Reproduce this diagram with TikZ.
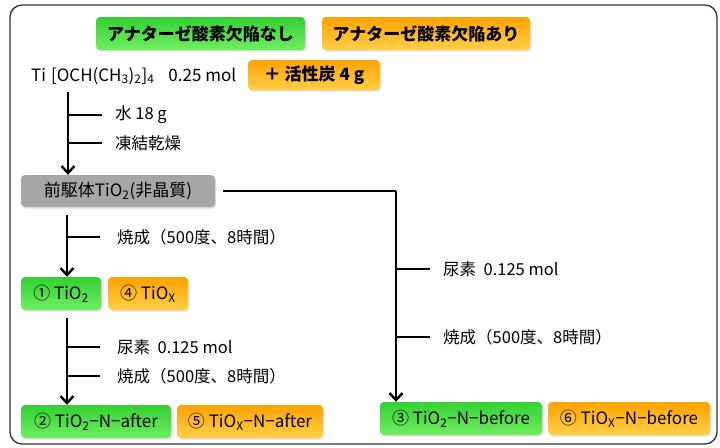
\documentclass[tikz,border=0pt]{standalone}
\usepackage{fontspec}
\setmainfont{Noto Sans CJK JP}
\usetikzlibrary{arrows.meta,shadows,calc}
\newcommand\mysub[1]{\textsubscript{#1}}
\definecolor{gtop}{HTML}{33D033}
\definecolor{gbot}{HTML}{70EE60}
\definecolor{otop}{HTML}{FFA200}
\definecolor{obot}{HTML}{FFD048}
\definecolor{gray1}{HTML}{A6A6A6}
\tikzset{
  box/.style={rounded corners=4pt, minimum height=33pt, inner sep=0pt, text=black,
    drop shadow={opacity=0.25, shadow xshift=1.2pt, shadow yshift=-1.5pt}},
  gbox/.style={box, top color=gtop, bottom color=gbot, draw=none},
  obox/.style={box, top color=otop, bottom color=obot, draw=none},
  graybox/.style={box, fill=gray1},
  lbl/.style={anchor=west, inner sep=0pt, font=\fontsize{16.5}{19}\selectfont},
  boxtxt/.style={font=\fontsize{17}{20}\selectfont},
  ttl/.style={font=\fontsize{17}{20}\selectfont\bfseries},
  arr/.style={line width=2.4pt, -{Straight Barb[length=7pt,width=13pt,line width=2.4pt]}},
  br/.style={line width=2.4pt},
}
\begin{document}
\begin{tikzpicture}[x=1pt,y=1pt]
\useasboundingbox (0,0) rectangle (720,-447);
\draw[line width=1.3pt, draw=black!80, rounded corners=12pt] (10,-5) rectangle (717,-444);

% titles
\node[gbox, ttl, minimum width=209pt] (t1) at (200.5,-33.5) {アナターゼ酸素欠陥なし};
\node[obox, ttl, minimum width=208pt] (t2) at (426,-33.5) {アナターゼ酸素欠陥あり};

% reagent
\node[lbl, font=\fontsize{17}{20}\selectfont] (reag) at (31,-76) {Ti\hspace{5pt}[OCH(CH\mysub{3})\mysub{2}]\mysub{4}\hspace{14pt}0.25\hspace{4pt}mol};
\node[obox, ttl, minimum width=132pt, minimum height=30pt] (carbon) at (314,-75) {＋ 活性炭 4 g};

% precursor
\node[graybox, boxtxt, minimum width=194pt, minimum height=32pt] (pre) at (118,-191) {前駆体TiO\mysub{2}(非晶質)};

% products
\node[gbox, boxtxt, minimum width=80pt] (p1) at (61,-293.5) {① TiO\mysub{2}};
\node[obox, boxtxt, minimum width=80pt] (p4) at (148,-293.5) {④ TiO\mysub{X}};
\node[gbox, boxtxt, minimum width=150pt] (p2) at (96,-421.5) {② TiO\mysub{2}−N−after};
\node[obox, boxtxt, minimum width=146pt] (p5) at (250,-421.5) {⑤ TiO\mysub{X}−N−after};
\node[gbox, boxtxt, minimum width=162pt] (p3) at (461,-418.5) {③ TiO\mysub{2}−N−before};
\node[obox, boxtxt, minimum width=162pt] (p6) at (629,-418.5) {⑥ TiO\mysub{X}−N−before};

% step 1
\coordinate (a1) at (68,-92);
\draw[arr] (a1) -- (a1 |- pre.north);
\coordinate (b1) at (68,-115);
\coordinate (b2) at (68,-143);
\draw[br] (b1) -- ++(34,0);
\draw[br] (b2) -- ++(34,0);
\node[lbl] (w) at (115,-115) {水 18 g};
\node[lbl] (fd) at (115,-143) {凍結乾燥};

% step 2
\coordinate (a2) at (67,-215);
\draw[arr] (a2) -- (a2 |- p1.north);
\coordinate (b3) at (67,-237);
\draw[br] (b3) -- ++(33,0);
\node[lbl] (c1) at (117,-237) {焼成（500度、8時間）};

% step 3
\coordinate (a3) at (67,-318);
\draw[arr] (a3) -- (a3 |- p2.north);
\coordinate (b4) at (67,-347);
\coordinate (b5) at (67,-376);
\draw[br] (b4) -- ++(33,0);
\draw[br] (b5) -- ++(33,0);
\node[lbl] (u1) at (117,-347) {尿素\ \ 0.125 mol};
\node[lbl] (c2) at (117,-376) {焼成（500度、8時間）};

% right path
\coordinate (r0) at ($(pre.east)+(8,0)$);
\coordinate (rc) at (396,-191);
\draw[br] (r0) -- (rc);
\draw[arr] (rc) -- (rc |- p3.north);
\coordinate (b6) at (396,-269);
\coordinate (b7) at (396,-337);
\draw[br] (b6) -- ++(34,0);
\draw[br] (b7) -- ++(34,0);
\node[lbl] (u2) at (443,-269) {尿素\ \ 0.125 mol};
\node[lbl] (c3) at (443,-337) {焼成（500度、8時間）};
\end{tikzpicture}
\end{document}
